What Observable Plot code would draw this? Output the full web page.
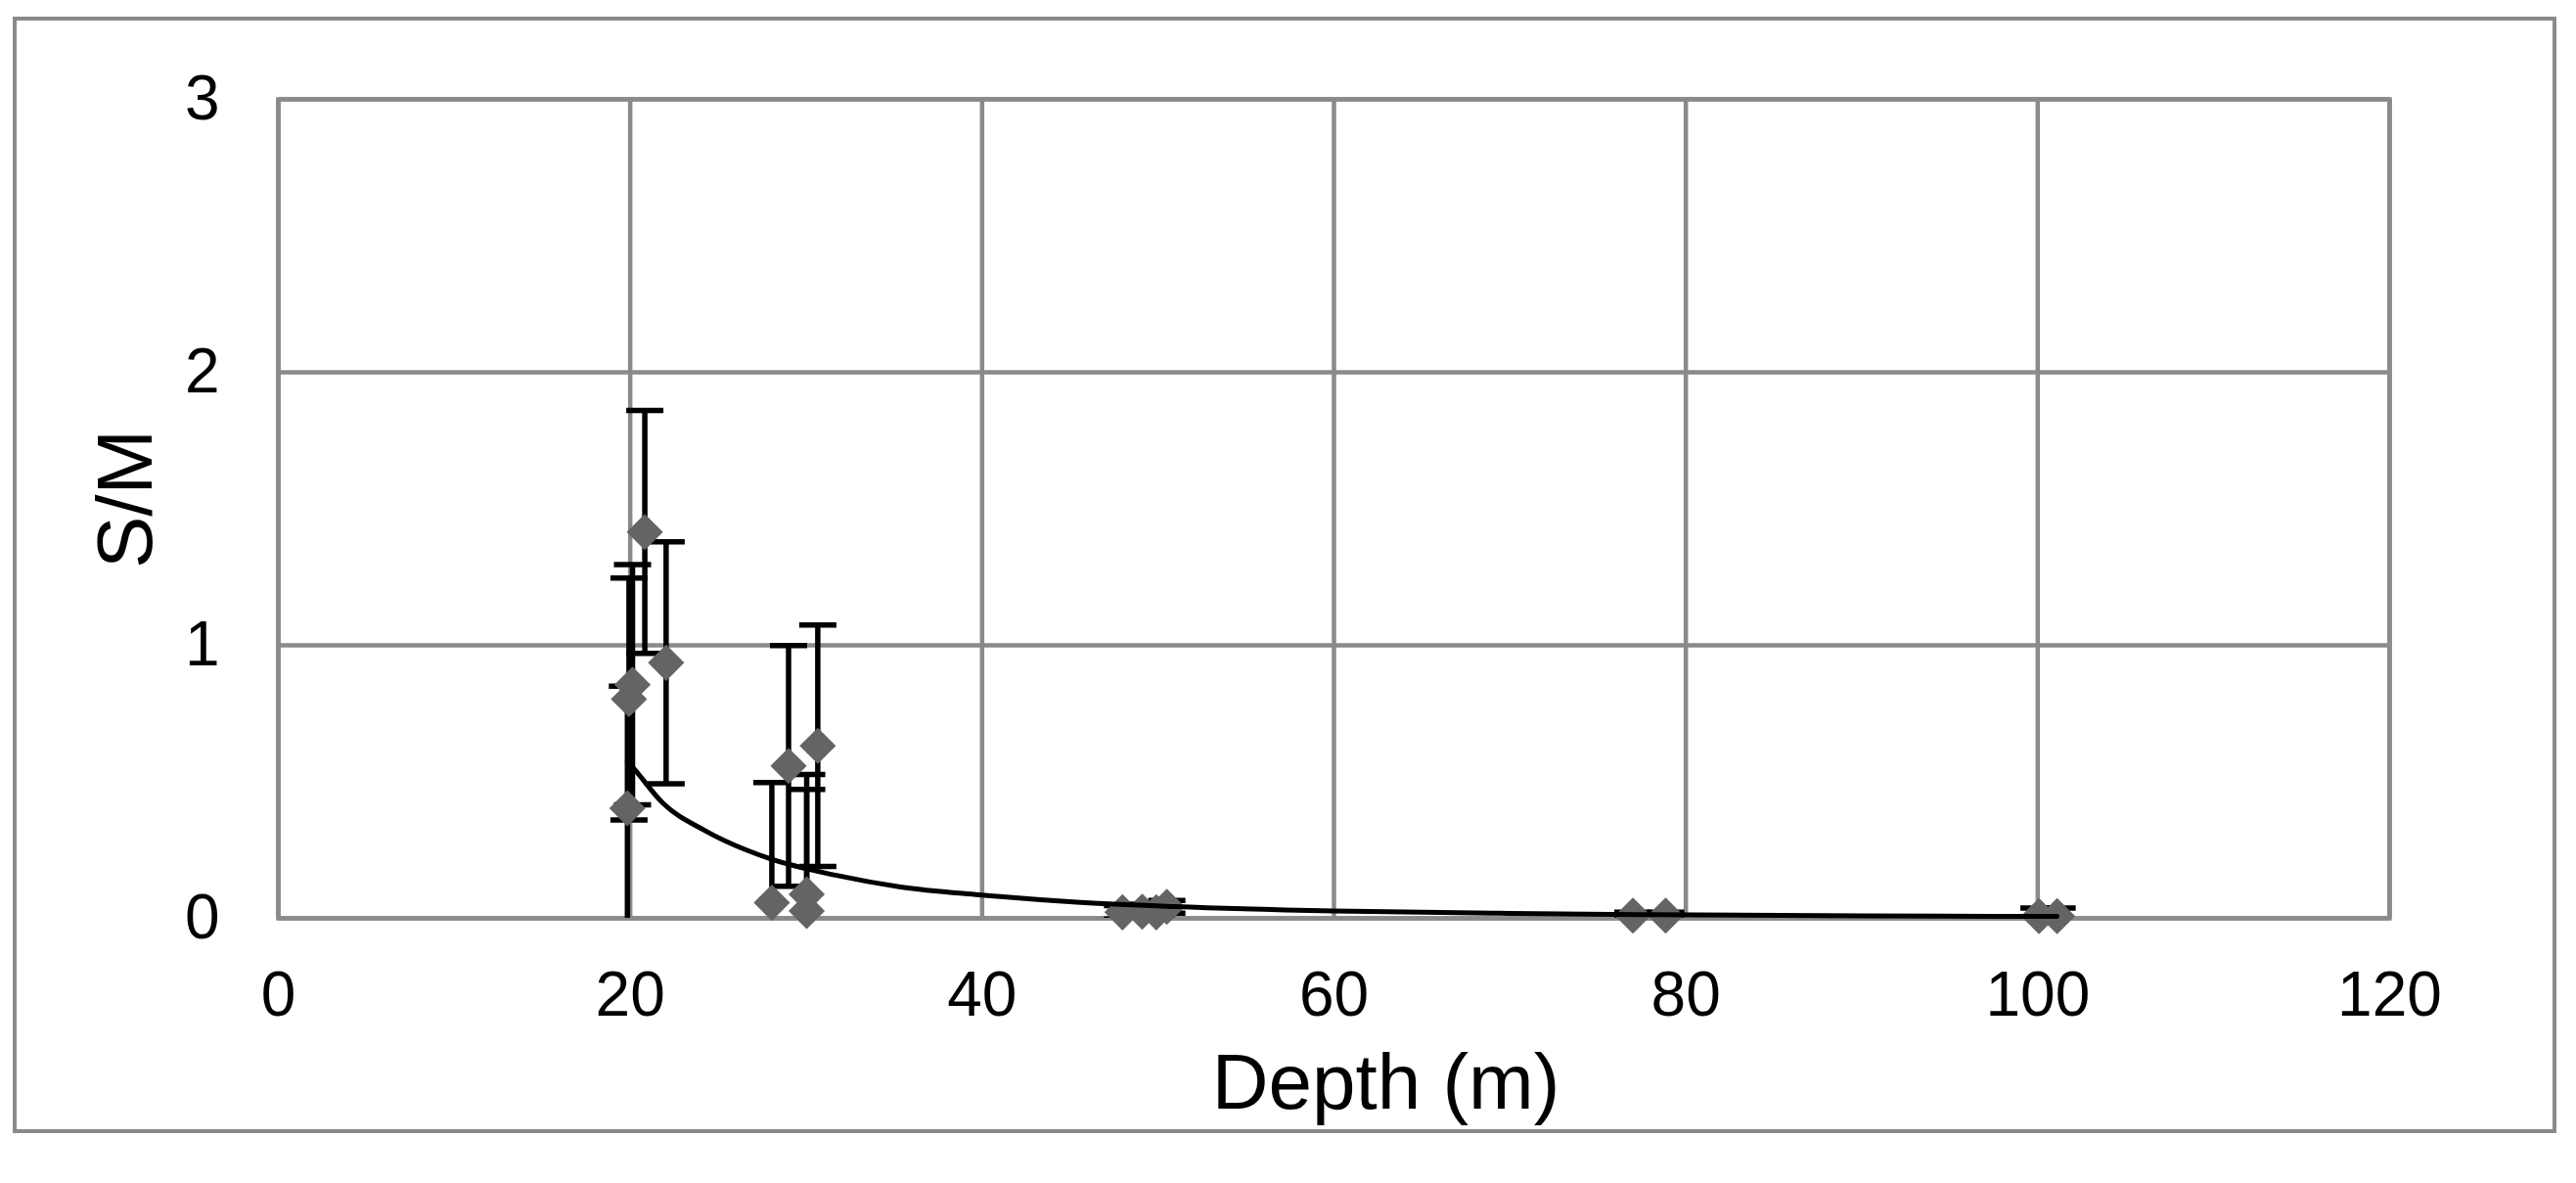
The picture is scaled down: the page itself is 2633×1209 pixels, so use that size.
<!DOCTYPE html>
<html>
<head>
<meta charset="utf-8">
<script src="https://cdn.jsdelivr.net/npm/d3@7"></script>
<script src="https://cdn.jsdelivr.net/npm/@observablehq/plot@0.6"></script>
<style>
  html, body { margin: 0; padding: 0; background: #ffffff; }
  #wrap { position: relative; width: 2633px; height: 1209px; overflow: hidden; }
  #chartArea { position: absolute; left: 13px; top: 17px; width: 2600px; height: 1141px; border: 4.5px solid #8a8a8a; box-sizing: border-box; }
  #chart { position: absolute; left: 0; top: 0; }
</style>
</head>
<body>
<div id="wrap"><div id="chartArea"></div><div id="chart"></div></div>
<script>
// Observed points: depth (m), S/M and error-bar half length
const depth = [19.84, 19.93, 20.13, 20.83, 22.04, 28.05, 29.0, 30.03, 30.03, 30.66, 47.98, 49.1, 49.9, 50.5, 76.99, 78.85, 100.07, 101.1];
const sm    = [0.403, 0.803, 0.856, 1.415, 0.936, 0.057, 0.558, 0.088, 0.027, 0.632, 0.022, 0.024, 0.022, 0.042, 0.010, 0.010, 0.008, 0.008];
const err   = [0.447, 0.443, 0.440, 0.445, 0.443, 0.440, 0.441, 0.439, 0.445, 0.442, 0.025, 0.028, 0.020, 0.023, 0.012, 0.012, 0.030, 0.030];

// Trend line (power fit)
const fitDepth = [19.84, 20.25, 21.84, 24.25, 27.96, 31.66, 35.37, 39.82, 45.38, 50.95, 60, 70, 78, 90, 101.1];
const fitSM    = [0.575, 0.545, 0.423, 0.321, 0.218, 0.158, 0.115, 0.086, 0.059, 0.043, 0.027, 0.018, 0.013, 0.009, 0.007];

const xTicks = [0, 20, 40, 60, 80, 100, 120];
const yTicks = [0, 1, 2, 3];
const xLabel = "Depth (m)";
const yLabel = "S/M";

const rows = depth.map((d, i) => ({depth: d, sm: sm[i], lo: sm[i] - err[i], hi: sm[i] + err[i]}));
const caps = rows.flatMap(r => [{depth: r.depth, v: r.hi}, {depth: r.depth, v: r.lo}]);
const fit = fitDepth.map((d, i) => ({depth: d, sm: fitSM[i]}));

const gridColor = "#8a8a8a";
const capSymbol = { draw(ctx) { ctx.moveTo(-19, 0); ctx.lineTo(19, 0); } };

const chart = Plot.plot({
  width: 2633,
  height: 1209,
  marginLeft: 284,
  marginRight: 191,
  marginTop: 101,
  marginBottom: 271,
  style: { fontFamily: "'Liberation Sans', Arial, sans-serif", fontSize: "64px", color: "#000", background: "transparent", overflow: "visible" },
  x: { domain: [0, 120], ticks: xTicks },
  y: { domain: [0, 3], ticks: yTicks },
  marks: [
    Plot.gridX(xTicks, { stroke: gridColor, strokeOpacity: 1, strokeWidth: 4.5 }),
    Plot.gridY(yTicks, { stroke: gridColor, strokeOpacity: 1, strokeWidth: 4.5 }),
    Plot.frame({ stroke: gridColor, strokeWidth: 4.5 }),
    Plot.axisX(xTicks, { tickSize: 0, tickPadding: 54, fontSize: 64, label: null, fill: "#000", tickFormat: d3.format("d") }),
    Plot.axisY(yTicks, { tickSize: 0, tickPadding: 60, fontSize: 64, label: null, fill: "#000", tickFormat: d3.format("d") }),
    Plot.ruleX(rows, { x: "depth", y1: "lo", y2: "hi", stroke: "#000", strokeWidth: 5.5, clip: true }),
    Plot.dot(caps, { x: "depth", y: "v", symbol: capSymbol, stroke: "#000", fill: "none", strokeWidth: 5.5, clip: true }),
    Plot.dot(rows, { x: "depth", y: "sm", symbol: "diamond2", r: 16.7, fill: "#646464", stroke: "none" }),
    Plot.line(fit, { x: "depth", y: "sm", curve: "monotone-x", stroke: "#000", strokeWidth: 5 }),
    Plot.text([xLabel], { frameAnchor: "bottom", textAnchor: "middle", dx: 53, dy: 194, lineAnchor: "bottom", fontSize: 80, fill: "#000" }),
    Plot.text([yLabel], { frameAnchor: "left", textAnchor: "middle", rotate: -90, dx: -130, dy: -10, lineAnchor: "bottom", fontSize: 80, fill: "#000" })
  ]
});
document.getElementById("chart").appendChild(chart);
</script>
</body>
</html>
